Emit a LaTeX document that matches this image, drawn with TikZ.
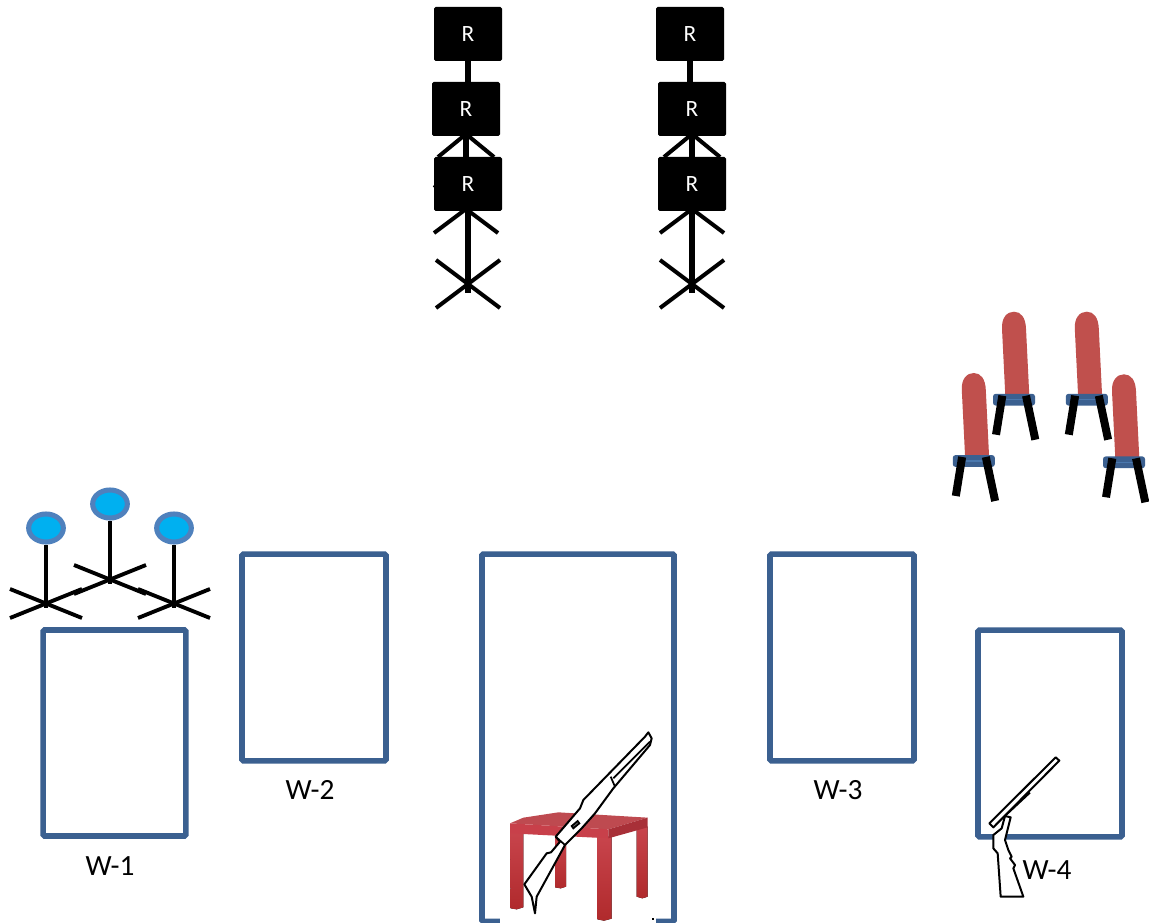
\documentclass[tikz,border=0pt]{standalone}
\usepackage{fontspec}
\setmainfont{Carlito}
\definecolor{wallblue}{HTML}{3B6090}
\definecolor{seatlight}{HTML}{4A78AE}
\definecolor{chairred}{HTML}{C0504D}
\definecolor{ringblue}{HTML}{4F81BD}
\definecolor{fillblue}{HTML}{00B0F0}
\definecolor{tabletop}{HTML}{BE4A50}
\definecolor{tablefront}{HTML}{C8404A}
\definecolor{tableside}{HTML}{A83038}
\definecolor{legtop}{HTML}{C8444C}
\definecolor{legbottom}{HTML}{B02A2C}
\usetikzlibrary{shapes.geometric}
\tikzset{
  wall/.style={draw=wallblue,line width=4.2pt,rounded corners=1pt,inner sep=0pt,fill=none},
  rbox/.style={fill=black,rounded corners=1.2pt,minimum width=51pt,minimum height=40.5pt,inner sep=0pt,text=white,font=\fontsize{17.5}{20}\selectfont},
  lbl/.style={font=\fontsize{22}{26}\selectfont,inner sep=0pt},
  stick/.style={black,line width=3pt},
  head/.style={ellipse,draw=ringblue,fill=fillblue,line width=3.8pt,minimum width=26pt,minimum height=21pt,inner sep=0pt},
  rifle/.style={draw=black,fill=white,line width=1.5pt,line join=round},
  rifleline/.style={draw=black,line width=1.3pt},
  tableleg/.style={top color=legtop,bottom color=legbottom,draw=none},
}
% chair drawn around its seat centre, in pixel units
\newcommand{\chairat}[3]{%
  \begin{scope}[shift={(#1,#2)}]
    \fill[chairred] (-8.7,-4) -- (-12,-71) .. controls (-12.6,-82) and (-7,-88) .. (0,-88) .. controls (7,-88) and (11.6,-82) .. (12,-71) -- (15.3,-4) -- cycle;
    \node[fill=wallblue,rounded corners=2pt,minimum width=31.5pt,minimum height=8.8pt,inner sep=0pt] (#3) at (0,0) {};
    \draw[seatlight,line width=0.9pt] (-8,0) -- (14,0);
    \draw[black,line width=6pt] (-11.7,-4) -- (-18,35);
    \draw[black,line width=6pt] (12,-4) -- (21.3,40);
  \end{scope}}
\newcommand{\feet}[4]{%
  \draw[stick] (#1-#3,#2-25) -- (#1+#3,#2+#4);
  \draw[stick] (#1+#3,#2-25) -- (#1-#3,#2+#4);}
\begin{document}
\begin{tikzpicture}[x=0.75pt,y=-0.75pt]
\useasboundingbox (0,0) rectangle (1149,923);
\fill[white] (0,0) rectangle (1149,923);

% walls
\node[wall,minimum width=107pt,minimum height=154.5pt] (w1) at (114.5,733) {};
\node[wall,minimum width=108pt,minimum height=155pt] (w2) at (314,657.5) {};
\node[wall,minimum width=144pt,minimum height=275.6pt] (door) at (578,737.8) {};
\node[wall,minimum width=108pt,minimum height=155pt] (w3) at (842,657.5) {};
\node[wall,minimum width=108pt,minimum height=155pt] (w4) at (1050,733.5) {};
\fill[white] (500,915) rectangle (656,923);
\fill[black] (652.3,918) rectangle (654,920);

\node[lbl] (lw1) at (110,866) {W-1};
\node[lbl] (lw2) at (310,790) {W-2};
\node[lbl] (lw3) at (838,790) {W-3};

% stands with heads, left group
\foreach \n/\x/\y in {a/46/604,b/110/580,c/174/604}{
  \node[head] (h\n) at (\x,\y-76) {};
  \coordinate (x\n) at (\x,\y+4);
  \draw[stick] (h\n.south) -- (x\n);
  \draw[black,line width=2.9pt] (\x-36,\y-15) -- (\x+36,\y+14);
  \draw[black,line width=2.9pt] (\x+36,\y-15) -- (\x-36,\y+14);
}

% stands, upper columns
\foreach \c/\xa/\xb/\xc/\xd in {l/468/466/468/466,r/690/692/692/692}{
  \coordinate (foot3\c) at (\xc,293);
  \feet{\xd}{136}{28}{21}
  \feet{\xd}{210}{32}{23}
  \feet{\xc}{285}{32}{23}
  \node[rbox] (r1\c) at (\xa,34) {R};
  \node[rbox] (r2\c) at (\xb,109) {R};
  \node[rbox] (r3\c) at (\xc,184) {R};
  \draw[line width=4.4pt] (r1\c.south) -- (r1\c.south |- r2\c.north);
  \draw[line width=4.4pt] (r2\c.south) -- (r2\c.south |- r3\c.north);
  \draw[line width=4.4pt] (r3\c.south) -- (foot3\c);
}

% chairs
\chairat{1014}{399.7}{ch2}
\chairat{1086.8}{399.7}{ch3}
\chairat{973.8}{461}{ch1}
\chairat{1124}{462.3}{ch4}

% table and long rifle (coordinates in 1/3 pixel)
\begin{scope}[shift={(480,720)},x=0.25pt,y=-0.25pt]
  \fill[tableleg] (225,350) -- (258,350) -- (258,500) -- (242,505) -- (225,502) -- cycle;
  \fill[tableleg] (470,320) -- (503,320) -- (503,530) -- (487,535) -- (470,530) -- cycle;
  \fill[tableleg] (90,335) -- (130,335) -- (130,562) -- (110,568) -- (92,565) -- cycle;
  \fill[tableleg] (352,350) -- (395,350) -- (395,596) -- (372,602) -- (352,598) -- cycle;
  \fill[tabletop] (90,310) -- (130,293) -- (235,277) -- (503,293) -- (385,328) -- cycle;
  \fill[tablefront] (90,310) -- (385,328) -- (385,355) -- (90,340) -- cycle;
  \fill[tableside] (385,328) -- (503,293) -- (503,322) -- (385,355) -- cycle;
  \draw[rifle] (165,580) -- (155,530) -- (133,493) -- (200,400) -- (213,397) -- (240,365) -- (227,350) -- (240,335) -- (300,265) -- (310,240) -- (495,50) -- (505,37) -- (515,55) -- (510,75) -- (400,205) -- (345,280) -- (305,325) -- (255,375) -- (170,530) -- cycle;
  \draw[rifleline] (400,175) -- (510,65);
  \draw[rifleline] (392,170) -- (404,198);
  \draw[rifleline] (227,350) -- (255,375);
  \draw[rifleline,fill=black!60] (275,318) -- (293,303) -- (298,310) -- (280,325) -- cycle;
\end{scope}

% short rifle
\begin{scope}[shift={(960,740)},x=0.25pt,y=-0.25pt]
  \draw[rifle] (135,228) -- (152,232) -- (135,300) -- (145,330) -- (155,350) -- (150,355) -- (165,375) -- (160,385) -- (190,470) -- (122,470) -- (113,340) -- (100,325) -- (100,285) -- (125,265) -- cycle;
  \draw[rifle] (287,52) -- (298,62) -- (100,262) -- (88,250) -- cycle;
  \draw[rifleline] (210,158) -- (135,228);
\end{scope}
\node[lbl] (lw4) at (1047,870) {W-4};
\end{tikzpicture}
\end{document}
